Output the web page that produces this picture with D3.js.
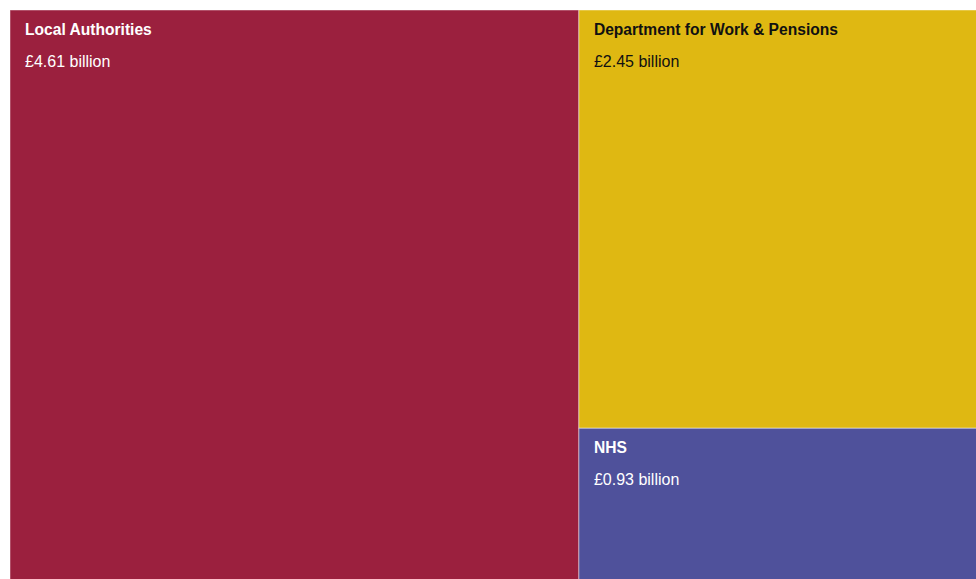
<!DOCTYPE html>
<html>
<head>
<meta charset="utf-8">
<script src="https://cdn.jsdelivr.net/npm/d3@7"></script>
<style>
  html, body { margin: 0; padding: 0; background: #fff; overflow: hidden; }
  svg { display: block; }
</style>
</head>
<body>
<svg id="chart" width="976" height="579"></svg>
<script>
const categories = ["Local Authorities", "Department for Work & Pensions", "NHS"];
const values = [4.61, 2.45, 0.93];
const valueLabels = ["£4.61 billion", "£2.45 billion", "£0.93 billion"];
const colors = ["#9b203e", "#dfb812", "#4f519b"];
const textColors = ["#ffffff", "#111111", "#ffffff"];

const svg = d3.select("#chart");
const x0 = 10, y0 = 10, W = 986, H = 577;

const root = d3.hierarchy({ children: categories.map((c, i) => ({ name: c, value: values[i], i })) })
  .sum(d => d.value || 0);

d3.treemap().tile(d3.treemapSquarify).size([W, H]).round(false)(root);

const g = svg.append("g").attr("transform", `translate(${x0},${y0})`);
const cell = g.selectAll("g.cell").data(root.leaves()).join("g")
  .attr("class", "cell")
  .attr("transform", d => `translate(${d.x0},${d.y0})`);

cell.append("rect")
  .attr("width", d => d.x1 - d.x0)
  .attr("height", d => d.y1 - d.y0)
  .attr("fill", d => colors[d.data.i])
  .attr("stroke", "rgba(255,255,255,0.45)")
  .attr("stroke-width", 1);

cell.append("text")
  .attr("x", 15).attr("y", 25)
  .attr("font-family", "'Liberation Sans', Arial, Helvetica, sans-serif")
  .attr("font-size", 15.6).attr("font-weight", "bold")
  .attr("fill", d => textColors[d.data.i])
  .text(d => d.data.name);

cell.append("text")
  .attr("x", 15).attr("y", 56.5)
  .attr("font-family", "'Liberation Sans', Arial, Helvetica, sans-serif")
  .attr("font-size", 16)
  .attr("fill", d => textColors[d.data.i])
  .text(d => valueLabels[d.data.i]);
</script>
</body>
</html>
